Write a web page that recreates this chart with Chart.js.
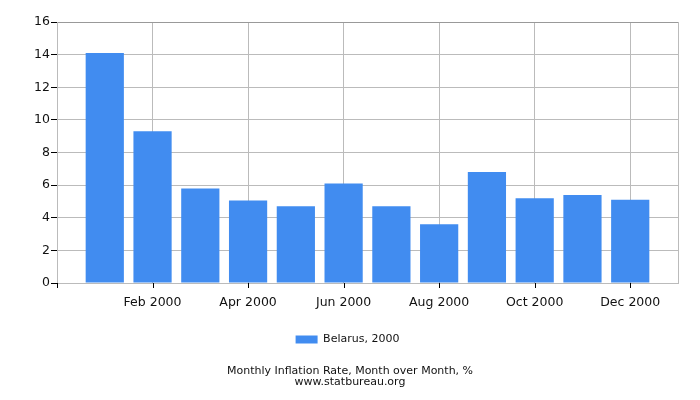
<!DOCTYPE html>
<html><head><meta charset="utf-8">
<script src="https://cdn.jsdelivr.net/npm/chart.js@4"></script>
<style>html,body{margin:0;padding:0;background:#fff}</style>
</head><body>
<canvas id="c" width="700" height="400"></canvas>
<script>
const months = ['Jan 2000','Feb 2000','Mar 2000','Apr 2000','May 2000','Jun 2000','Jul 2000','Aug 2000','Sep 2000','Oct 2000','Nov 2000','Dec 2000'];
const values = [14.1, 9.3, 5.8, 5.05, 4.7, 6.1, 4.7, 3.6, 6.8, 5.2, 5.4, 5.1];
const yTicks = [0, 2, 4, 6, 8, 10, 12, 14, 16];
const seriesLabel = 'Belarus, 2000';
const titleLines = ['Monthly Inflation Rate, Month over Month, %', 'www.statbureau.org'];

const axisLabels = [''].concat(months, ['']);
const axisValues = [null].concat(values, [null]);
const lastIdx = axisLabels.length - 1;
const FONT = 'DejaVu Sans';

const recenter = {
  id: 'recenter',
  afterLayout(chart) {
    if (chart.legend) { chart.legend.left = -5; chart.legend.right = chart.width; chart.legend.width = chart.width + 5; }
    if (chart.titleBlock) { chart.titleBlock.left = 0; chart.titleBlock.right = chart.width; chart.titleBlock.width = chart.width; }
  }
};

const xTickMarks = {
  id: 'xTickMarks',
  afterDraw(chart) {
    const s = chart.scales.x;
    const c = chart.ctx;
    c.save();
    c.strokeStyle = '#000';
    c.lineWidth = 1;
    c.beginPath();
    for (let i = 0; i < lastIdx; i += 2) {
      const px = Math.round(s.getPixelForTick(i)) + 0.5;
      c.moveTo(px, s.top);
      c.lineTo(px, s.top + 5);
    }
    c.stroke();
    c.restore();
  }
};

new Chart(document.getElementById('c'), {
  type: 'bar',
  data: {
    labels: axisLabels,
    datasets: [{
      label: seriesLabel,
      data: axisValues,
      backgroundColor: '#418cf0',
      borderWidth: 0,
      barPercentage: 0.8,
      categoryPercentage: 1.0
    }]
  },
  plugins: [recenter, xTickMarks],
  options: {
    responsive: false,
    animation: false,
    devicePixelRatio: 1,
    layout: { padding: { left: 0, right: 22, top: 22, bottom: 0 } },
    plugins: {
      tooltip: { enabled: false },
      legend: {
        position: 'bottom',
        labels: {
          boxWidth: 22, boxHeight: 8, padding: 10,
          color: '#111',
          font: { family: FONT, size: 11 }
        }
      },
      title: {
        display: true,
        position: 'bottom',
        text: titleLines,
        color: '#111',
        font: { family: FONT, size: 11, weight: 'normal', lineHeight: 1.0 },
        padding: { top: 11, bottom: 12 }
      }
    },
    scales: {
      x: {
        type: 'category',
        offset: false,
        afterFit: (s) => { s.height = 41; },
        border: { color: '#bbb', width: 1 },
        grid: {
          offset: false,
          color: (ctx) => (ctx.index === lastIdx || (ctx.index > 0 && ctx.index % 2 === 0)) ? '#bbb' : 'rgba(0,0,0,0)',
          tickColor: 'rgba(0,0,0,0)',
          tickLength: 5,
          lineWidth: 1
        },
        ticks: {
          autoSkip: false,
          maxRotation: 0,
          padding: 7,
          color: '#111',
          font: { family: FONT, size: 12.5 },
          callback: function(v, i) { return (i > 0 && i < lastIdx && i % 2 === 0) ? axisLabels[i] : ''; }
        }
      },
      y: {
        min: 0, max: 16,
        afterFit: (s) => { s.width = 57; },
        afterBuildTicks: (s) => { s.ticks = yTicks.map(v => ({ value: v })); },
        border: { color: '#bbb', width: 1 },
        grid: {
          color: (ctx) => (ctx.tick && ctx.tick.value === 16) ? '#999' : '#bbb',
          tickColor: '#000',
          tickLength: 6,
          lineWidth: 1
        },
        ticks: {
          padding: 1,
          color: '#111',
          font: { family: FONT, size: 12.5 }
        }
      }
    }
  }
});
</script>
</body></html>
